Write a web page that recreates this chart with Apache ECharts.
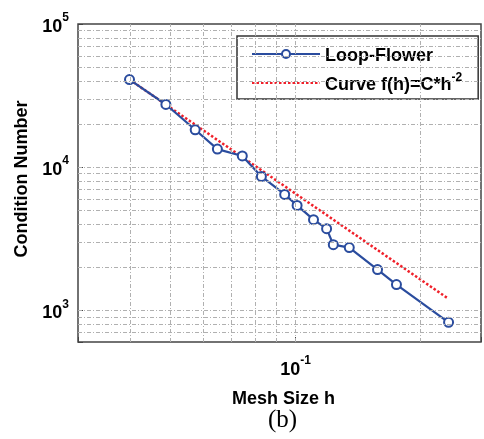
<!DOCTYPE html>
<html>
<head>
<meta charset="utf-8">
<script src="https://cdn.jsdelivr.net/npm/echarts@6/dist/echarts.min.js"></script>
<style>html,body{margin:0;padding:0;background:#fff;}#c{width:484px;height:439px;}</style>
</head>
<body>
<div id="c"></div>
<script>
// ---- data ----
const seriesNames = ['Loop-Flower', 'Curve f(h)=C*h^-2'];
const meshSize = [0.0399, 0.0488, 0.0574, 0.0649, 0.0745, 0.0828, 0.0942, 0.1009, 0.1105, 0.1188, 0.1233, 0.1347, 0.1575, 0.1749, 0.2334];
const conditionNumber = [40900, 27400, 18240, 13360, 11970, 8610, 6450, 5400, 4295, 3717, 2874, 2739, 1923, 1511, 824];
const curveH = [0.0399, 0.232];
const curveValue = [40900, 1216];
const xGridValues = [0.04, 0.05, 0.06, 0.07, 0.08, 0.09, 0.1, 0.2];
const yGridValues = [700, 800, 900, 1000, 2000, 3000, 4000, 5000, 6000, 7000, 8000, 9000, 10000, 20000, 30000, 40000, 50000, 60000, 70000, 80000, 90000];
const xAxisTitle = 'Mesh Size h';
const yAxisTitle = 'Condition Number';
const caption = '(b)';

const FONT = "'Liberation Sans', Arial, sans-serif";
function powLabel(v) {
  const e = Math.log10(v);
  if (Math.abs(e - Math.round(e)) > 1e-6) return '';
  return '{b|10}{s|' + Math.round(e) + '}';
}
const gridLineStyle = { color: '#b0b0b0', width: 1, type: [4, 2, 1, 2] };
const BLUE = '#2a4c9e';
const RED = '#f0202a';

const chart = echarts.init(document.getElementById('c'), null, { renderer: 'canvas' });
chart.setOption({
  animation: false,
  backgroundColor: '#fff',
  grid: { left: 78, top: 24, right: -4, bottom: 97, show: true, borderColor: '#444', borderWidth: 1.5, backgroundColor: 'transparent' },
  xAxis: {
    type: 'log', min: 0.03, max: 0.2793,
    name: xAxisTitle, nameLocation: 'middle', nameGap: 48,
    nameTextStyle: { fontFamily: FONT, fontWeight: 'bold', fontSize: 18, color: '#000', padding: [0, 0, 0, 8] },
    axisLine: { show: false },
    axisTick: { show: true, inside: true, length: 5, lineStyle: { color: '#444', width: 1 } },
    splitLine: { show: false },
    axisLabel: {
      formatter: powLabel, margin: 13, showMinLabel: true, showMaxLabel: true,
      rich: {
        b: { fontFamily: FONT, fontWeight: 'bold', fontSize: 18, color: '#000', padding: [6, 0, 0, 0] },
        s: { fontFamily: FONT, fontWeight: 'bold', fontSize: 12, color: '#000', verticalAlign: 'top' }
      }
    }
  },
  yAxis: {
    type: 'log', min: 600, max: 100000,
    name: yAxisTitle, nameLocation: 'middle', nameGap: 46, nameRotate: 90,
    nameTextStyle: { fontFamily: FONT, fontWeight: 'bold', fontSize: 18, color: '#000', padding: [0, 0, 0, 8] },
    axisLine: { show: false },
    axisTick: { show: true, inside: true, length: 5, lineStyle: { color: '#444', width: 1 } },
    splitLine: { show: false },
    axisLabel: {
      formatter: powLabel, margin: 9, showMinLabel: true, showMaxLabel: true,
      rich: {
        b: { fontFamily: FONT, fontWeight: 'bold', fontSize: 18, color: '#000', padding: [6, 0, 0, 0] },
        s: { fontFamily: FONT, fontWeight: 'bold', fontSize: 12, color: '#000', verticalAlign: 'top' }
      }
    }
  },
  legend: {
    orient: 'vertical', left: 237, top: 36,
    data: [
      { name: seriesNames[0] },
      { name: seriesNames[1], itemStyle: { opacity: 0 } }
    ],
    backgroundColor: '#fff', borderColor: '#333', borderWidth: 1.5,
    padding: [11, 16, 5, 14], itemGap: 7, itemWidth: 68, itemHeight: 10,
    formatter: function (name) {
      if (name.indexOf('^') >= 0) {
        const parts = name.split('^');
        return '{a|' + parts[0] + '}{s|' + parts[1] + '}';
      }
      return '{a|' + name + '}';
    },
    textStyle: {
      rich: {
        a: { fontFamily: FONT, fontWeight: 'bold', fontSize: 18, color: '#000', padding: [4, 0, 0, 0] },
        s: { fontFamily: FONT, fontWeight: 'bold', fontSize: 12, color: '#000', verticalAlign: 'top' }
      }
    }
  },
  series: [
    {
      name: '__grid', type: 'line', data: [], silent: true,
      markLine: {
        silent: true, symbol: ['none', 'none'], label: { show: false }, animation: false,
        lineStyle: gridLineStyle,
        data: xGridValues.map(v => ({ xAxis: v })).concat(yGridValues.map(v => ({ yAxis: v })))
      }
    },
    {
      name: seriesNames[1], type: 'line', z: 3,
      data: curveH.map((h, i) => [h, curveValue[i]]),
      showSymbol: false, symbol: 'none',
      lineStyle: { color: RED, width: 2.5, type: [2.5, 2] },
      itemStyle: { color: RED }
    },
    {
      name: seriesNames[0], type: 'line', z: 4,
      data: meshSize.map((h, i) => [h, conditionNumber[i]]),
      symbol: 'emptyCircle', symbolSize: 9,
      lineStyle: { color: BLUE, width: 2.2 },
      itemStyle: { color: BLUE, borderWidth: 2.2, borderColor: BLUE }
    }
  ],
  graphic: [{
    type: 'text', left: 268, top: 408,
    style: { text: caption, font: "25px 'Liberation Serif', 'Times New Roman', serif", fill: '#000' }
  }]
});
</script>
</body>
</html>
